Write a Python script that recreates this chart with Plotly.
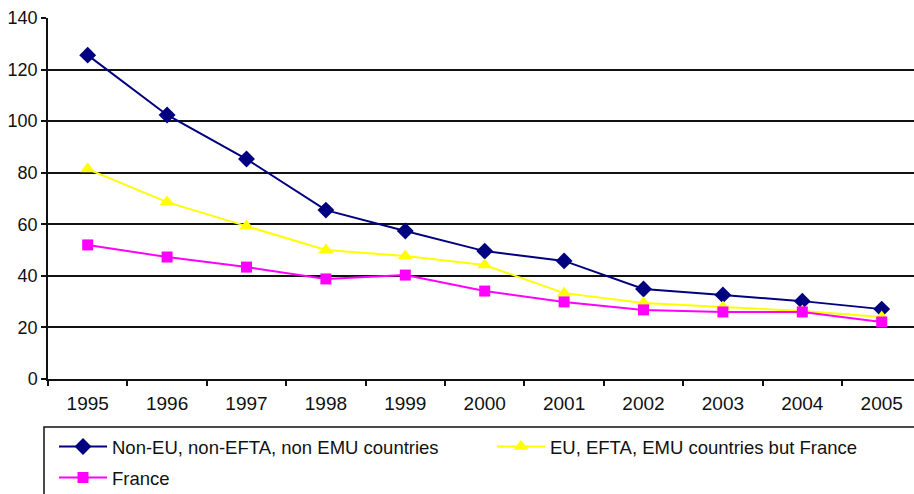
import plotly.graph_objects as go

years = ["1995", "1996", "1997", "1998", "1999", "2000", "2001", "2002", "2003", "2004", "2005"]
non_eu = [125.6, 102.4, 85.3, 65.5, 57.4, 49.6, 45.8, 34.9, 32.6, 30.2, 27.1]
eu_but_france = [81.4, 68.6, 59.3, 50.0, 47.7, 44.2, 33.3, 29.5, 27.9, 26.4, 24.0]
france = [52.0, 47.3, 43.4, 38.8, 40.3, 34.1, 29.9, 26.8, 26.0, 26.0, 22.1]

names = ["Non-EU, non-EFTA, non EMU countries", "EU, EFTA, EMU countries but France", "France"]
y_ticks = [0, 20, 40, 60, 80, 100, 120, 140]

FONT = "Liberation Sans, Arial, sans-serif"
FS = 18

fig = go.Figure()
fig.add_trace(go.Scatter(x=years, y=non_eu, name=names[0], mode="lines+markers",
                         line=dict(color="#000080", width=2),
                         marker=dict(symbol="diamond", size=13, color="#000080"),
                         legend="legend", showlegend=True))
fig.add_trace(go.Scatter(x=years, y=eu_but_france, name=names[1], mode="lines+markers",
                         line=dict(color="#FFFF00", width=2),
                         marker=dict(symbol="triangle-up", size=13, color="#FFFF00"),
                         legend="legend2", showlegend=True))
fig.add_trace(go.Scatter(x=years, y=france, name=names[2], mode="lines+markers",
                         line=dict(color="#FF00FF", width=2),
                         marker=dict(symbol="square", size=11, color="#FF00FF"),
                         legend="legend3", showlegend=True))

L, T, B = 48, 18, 115
W, H = 914, 494
pw = W - L
ph = H - T - B
spacing = 79.4
right = pw / spacing - 0.5

def px_x(px):
    return (px - L) / pw

def px_y(py):
    return (H - B - py) / ph

leg_common = dict(orientation="h", xanchor="left", yanchor="top",
                  bgcolor="rgba(0,0,0,0)", font=dict(size=18.5, family=FONT, color="#111"),
                  itemwidth=48)

fig.update_layout(
    width=W, height=H,
    showlegend=True,
    margin=dict(l=L, r=0, t=T, b=B, autoexpand=False),
    plot_bgcolor="white", paper_bgcolor="white",
    font=dict(family=FONT, size=FS, color="#111"),
    xaxis=dict(type="category", range=[-0.5, right], showgrid=False,
               showline=True, linecolor="#111", linewidth=1.5,
               ticks="outside", ticklen=5, tickcolor="#111", tickwidth=1.5,
               tickson="boundaries", ticklabelstandoff=6,
               tickfont=dict(size=19, family=FONT)),
    yaxis=dict(range=[0, 140], tickvals=y_ticks, showgrid=True, gridcolor="#111",
               gridwidth=1.5, showline=True, linecolor="#111", linewidth=1.5,
               ticks="outside", ticklen=5, tickcolor="#111", tickwidth=1.5,
               zeroline=False, tickfont=dict(size=18, family=FONT)),
    legend=dict(x=px_x(54), y=px_y(428), **leg_common),
    legend2=dict(x=px_x(492), y=px_y(428), **leg_common),
    legend3=dict(x=px_x(54), y=px_y(459), **leg_common),
    shapes=[dict(type="rect", xref="paper", yref="paper",
                 x0=px_x(44), x1=px_x(930), y0=px_y(427), y1=px_y(510),
                 line=dict(color="#111", width=1.5), fillcolor="rgba(0,0,0,0)")],
)

fig.write_html("out.html")
